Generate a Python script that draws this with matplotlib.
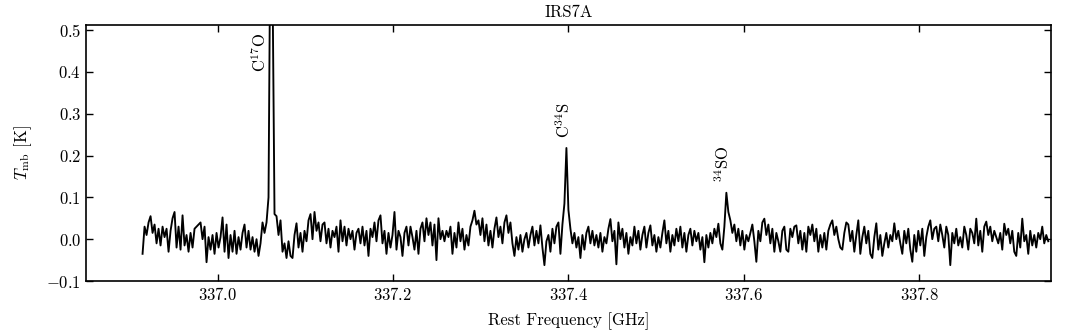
"""IRS7A spectrum around 337 GHz: C17O, C34S and 34SO lines."""
import numpy as np
import matplotlib
matplotlib.use("Agg")
import matplotlib.pyplot as plt

plt.rcParams.update({
    "font.family": "serif",
    "font.serif": ["cmr10", "DejaVu Serif"],
    "mathtext.fontset": "cm",
    "axes.formatter.use_mathtext": True,
    "axes.unicode_minus": True,
    "font.size": 12,
})

# channel grid of the spectrum (GHz)
F_START = 336.9145
CHAN_WIDTH = 0.002279

# T_mb in mK (split in stretches)
tmb_a = [-35, 30, 10, 40, 55, 15, 35, -10, 25, -15, 30, 5, 25, -30, 20, 50,
         65, -20, 30, -25, 57, -15, 10, -30, 15, -20, 25, 30, 35, 40, 0, 30,
         -55, 5, -25, 10, -35, 15, -20, 5, 52, -30, 35, -45, 10, -30, 20, -35,
         5, -25, 15, 35, -20, 20, -25, 5, -30, 0, -40, -10, 40, 15, 40, 100,
         800, 620, 60, 55, 10, 45, -30, -10, -45, -5, -40]
tmb_b = [-45, 10, 38, -20, 15, -30, 20, -5, 45, 60, 0, 65, 20, 40, -5, 35,
         40, -10, 25, -20, 20, 5, 30, -30, 45, -5, 30, -15, 25, 0, 20, -25,
         15, 25, -10, 30, -15, 20, -40, 25, 5, 40, -5, 45, 57, -10, 20, -35,
         15, -20, 10, 65, -25, 20, 5, -40, 15, 30, -15, 30, 5, -25, 20, -35,
         25, 40, -5, 50, 10, 40, -15, 35, -50, 50, 0, 20, -5]
tmb_c = [20, 5, 30, -35, 15, -20, 40, -5, 25, -25, 10, -15, 30, 45, 68, 35,
         45, 10, 50, -5, 35, -15, 20, -20, 25, 52, 5, 30, -10, 40, 57, 15,
         40, -10, -40, 5, -25, 10, -30, 0, 15, -20, 10, 30, -15, 20, -10, 33,
         -20, -62, -5, 10, -30, 25, -10, 30, 40, -35, 35, 85, 218, 70, 25, -10,
         15, -20, 5, -45, 10, -25, 15, 30, -10, 20, -15, 10]
tmb_d = [-20, 15, -30, 5, -10, 25, 48, -5, 20, -60, 40, 0, 25, -20, 15, -35,
         5, -15, 30, -10, 20, -25, 10, 30, -20, 15, 33, -15, 10, -30, 5, -20,
         15, 45, -10, 20, -30, 10, -15, 25, -5, 30, -20, 15, -30, 10, 25, -15,
         20, -5, 15, -25, 5, -55, 10, -20, 15, -10, 25, 5, 37, -10, -25, 30,
         111, 65, 45, 15, 35, -5, 25, -15, 20, -25, 10, -5]
tmb_e = [15, 35, -5, -54, 20, -5, 40, 49, 10, 35, -10, 25, -30, 15, -5, -30,
         20, 30, -25, -30, 25, 5, 30, 33, -10, 20, -25, 15, -30, 30, 10, 35,
         -5, 25, -30, 10, -20, 15, -25, 20, 35, 45, 10, 30, 0, -20, -25, 15,
         40, 35, -5, 20, -30, 10, 45, -35, 5, 30, -10, 20, -35, -45, 5, 38,
         -25, 10, -40, -10, 15, -20, 10, -5, 38, 0, 20, -10]
tmb_f = [-35, 20, -10, 25, -25, -54, 10, -30, 20, -15, 25, -40, 5, 30, 45, 0,
         25, 30, -5, 35, 10, -20, 30, 10, -62, 15, -10, 25, -15, 5, -20, 30,
         10, -25, 25, 15, -10, 49, -15, 20, -30, 30, 42, 10, 30, -5, 20, 5,
         -10, 15, -25, 37, 10, 25, -10, 20, -30, -40, 15, -20, 49, -5, 10, -35,
         20, -15, 10, -20, 15, 0, 30, -10, 10, -5]

# line labels: (text, frequency, T_mb at the foot of the label)
line_names = [r"C$^{17}$O", r"C$^{34}$S", r"$^{34}$SO"]
line_freqs = [337.047, 337.395, 337.576]
label_base = [0.40, 0.242, 0.136]

tmb = np.array(tmb_a + tmb_b + tmb_c + tmb_d + tmb_e + tmb_f) / 1000.0
freq = F_START + CHAN_WIDTH * np.arange(len(tmb))

fig = plt.figure(figsize=(10.72, 3.31), dpi=100)
ax = fig.add_axes([0.0802, 0.151, 0.9002, 0.7735])
ax.plot(freq, tmb, color="black", lw=1.35)

for name, f, y in zip(line_names, line_freqs, label_base):
    ax.text(f, y, name, rotation=90, ha="center", va="bottom", fontsize=12)

ax.set_xlim(336.85, 337.95)
ax.set_ylim(-0.1, 0.512)
ax.set_xticks([337.0, 337.2, 337.4, 337.6, 337.8])
ax.set_yticks([-0.1, 0.0, 0.1, 0.2, 0.3, 0.4, 0.5])
ax.tick_params(direction="in", top=True, right=True, length=5, width=1,
               labelsize=12)
for sp in ax.spines.values():
    sp.set_linewidth(1.2)
ax.set_xlabel("Rest Frequency [GHz]", fontsize=12, labelpad=7)
ax.set_ylabel(r"$T_{\rm mb}$ [K]", fontsize=12, labelpad=9)
ax.set_title("IRS7A", fontsize=12)

fig.savefig("out.png", dpi=100)
